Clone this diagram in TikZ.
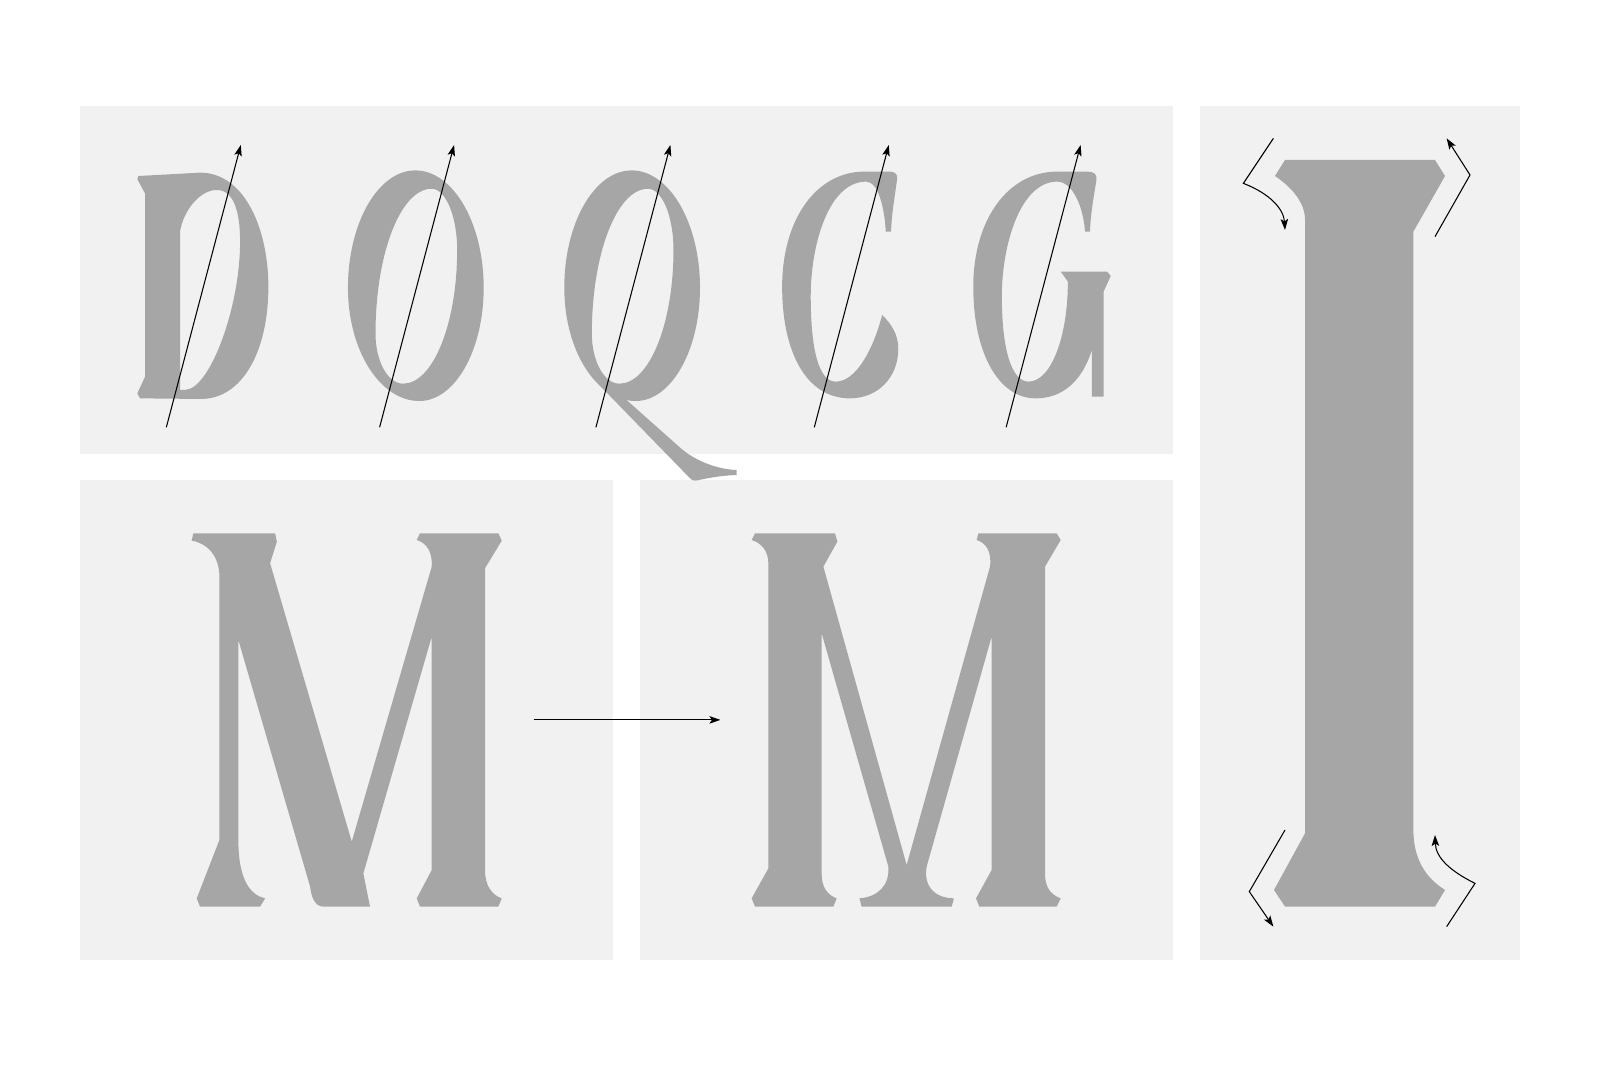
\documentclass[tikz,border=0pt]{standalone}
\usetikzlibrary{arrows.meta}
\definecolor{panelgray}{HTML}{F1F1F1}
\definecolor{glyphgray}{HTML}{A6A6A6}

\begin{document}
\begin{tikzpicture}[x=0.010204cm, y=-0.010204cm]
        \tikzstyle{panel}=[fill=panelgray]
        \tikzstyle{glyph}=[fill=glyphgray]
        \tikzstyle{guide}=[black, line width=0.3pt, -{Stealth[length=1.1mm,width=0.75mm,inset=0.25mm]}]
        \fill [white] (0,0) rectangle (1568,1045.7);
        \useasboundingbox (0,0) rectangle (1568,1045.7);
        % panels
        \fill [panel] (78,104) rectangle (1150,444.5);
        \fill [panel] (78,470.4) rectangle (601,941);
        \fill [panel] (627.2,470.4) rectangle (1150,941);
        \fill [panel] (1176,104) rectangle (1490,941);
        % D
        \fill [glyph, even odd rule] (135.6,172.5) -- (196,169.2) .. controls (240,169.2) and (263,225) .. (263,281) .. controls (263,345) and (237,391) .. (197,391) -- (137.2,390.4) -- (134.6,385.5) -- (142.1,369.2) -- (142.1,189.5) -- (134.6,175.7) -- cycle
              (176.4,227) .. controls (180,205) and (197,186) .. (212.3,186.2) .. controls (230,186) and (236,210) .. (235.2,241.7) .. controls (234,305) and (205,381) .. (182,382) -- (176.4,382) -- cycle;
        % O and the bowl of Q
        \foreach \s in {0,212}
        \fill [glyph, even odd rule, shift={(\s,0)}] (407,167) .. controls (444,167) and (474,218.5) .. (474,282) .. controls (474,343.3) and (445.8,393) .. (411,393) .. controls (372.4,393) and (341,343.3) .. (341,282) .. controls (341,218.5) and (370.6,167) .. (407,167) -- cycle
              (423,185) .. controls (436.8,185) and (448,211.9) .. (448,245) .. controls (448,317.3) and (424.3,376) .. (395,376) .. controls (380.1,376) and (368,354) .. (368,327) .. controls (368,248.6) and (392.6,185) .. (423,185) -- cycle;
        % tail of Q
        \fill [glyph] (587,377) -- (598,377) -- (614,392) -- (668,440) .. controls (681,451) and (702,460) .. (722,460.6) -- (722,465.5) .. controls (705,466) and (692,469) .. (682,471) .. controls (680,471) and (678,470.5) .. (677,469.5) -- cycle;
        % C
        \fill [glyph] (847,168.2) -- (872,168.2) .. controls (877,168.2) and (880,171) .. (879.2,175.5) .. controls (876.5,195) and (873.5,212) .. (873.3,227) -- (868,227) .. controls (867,205) and (861,178) .. (848.8,178) .. controls (812,178) and (794.5,240) .. (794.5,290) .. controls (794.5,345) and (803,374) .. (819,374) .. controls (838,374) and (855,345) .. (864.5,308.7) .. controls (874,318) and (880.3,328) .. (880.3,342) .. controls (880.3,370) and (860,390.4) .. (833,390.4) .. controls (790,390.4) and (766.5,345) .. (766.5,281) .. controls (766.5,215) and (800,168.2) .. (847,168.2) -- cycle;
        % G
        \fill [glyph] (1036,168.2) -- (1066,168.2) .. controls (1072,168.2) and (1075.5,171) .. (1074.5,176.4) .. controls (1071.5,195) and (1068.5,212) .. (1068.2,227) -- (1063.3,227) .. controls (1062,205) and (1052,178) .. (1036,178) .. controls (1000,178) and (981.8,240) .. (981.8,290) .. controls (981.8,345) and (992,374) .. (1008,374) .. controls (1030,374) and (1046.5,330) .. (1046.5,276) -- (1039.5,266.2) -- (1085,266.2) -- (1088.5,270.5) -- (1081.5,285.8) -- (1081.5,388.7) -- (1070,388.7) -- (1070,343) .. controls (1060,375) and (1040,390.4) .. (1015,390.4) .. controls (978,390.4) and (953.8,345) .. (953.8,281) .. controls (953.8,215) and (988,168.2) .. (1036,168.2) -- cycle;
        % stress axes
        \foreach \x in {163,372,584,798,986}
        \draw [guide] (\x,418.8) -- ++(73,-276.7);
        % M before
        \fill [glyph] (189.5,522.7) -- (269.6,522.7) -- (271.3,530.8) -- (264.7,552) -- (344.7,824.8) -- (423.1,555.3) .. controls (424,541) and (418,532) .. (408.4,529.2) -- (411.6,522.7) -- (488.4,522.7) -- (491.7,529.9) -- (475.3,556.9) -- (475.3,852.6) .. controls (475.3,868) and (482,877) .. (491.7,880.4) -- (488.4,888.5) -- (411.6,888.5) -- (408.4,880.4) -- (423.1,852.6) -- (423.1,623.9) -- (356.1,855.9) -- (362.6,888.5) -- (317,888.5) .. controls (308,888.5) and (305,878) .. (303.9,868.9) -- (233.6,627.2) -- (233.6,823.2) .. controls (233.6,862) and (245,877) .. (259.8,880.4) -- (254.9,888.5) -- (196,888.5) -- (192.8,880.4) -- (215,823.2) -- (215,565.1) .. controls (215,545) and (203,532) .. (187.8,529.9) -- cycle;
        % M after
        \fill [glyph] (739.9,522.7) -- (818.3,522.7) -- (820.6,530.8) -- (806.9,555.3) -- (888.5,847.7) -- (970.2,555.3) .. controls (972,540) and (966,532) .. (957.1,529.2) -- (958.8,522.7) -- (1035.5,522.7) -- (1039.5,529.2) -- (1024.1,555.3) -- (1024.1,855.9) .. controls (1024.1,870) and (1030,877) .. (1039.5,880.4) -- (1035.5,888.5) -- (959.7,888.5) -- (956.5,880.4) -- (971.8,852.6) -- (971.8,623.9) -- (908.1,849.3) .. controls (905,868) and (915,880) .. (934.9,880.4) -- (932.6,888.5) -- (844.4,888.5) -- (842.2,880.4) .. controls (860,879) and (872,868) .. (870.6,849.3) -- (805.2,620.7) -- (805.2,855.9) .. controls (805.2,870) and (811,877) .. (819.9,880.4) -- (816.7,888.5) -- (739.9,888.5) -- (736.6,880.4) -- (753,851) -- (753,552.1) .. controls (753,540) and (746,532) .. (736.6,529.2) -- cycle;
        \coordinate (mfrom) at (523,705.5);
        \coordinate (mto) at (706,705.5);
        \draw [guide] (mfrom) -- (mto);
        % I
        \fill [glyph] (1259.3,156.8) -- (1406.3,156.8) -- (1416.1,172.5) -- (1385.1,227) -- (1385.1,813.4) .. controls (1385.1,845) and (1400,862) .. (1416.1,872.2) -- (1406.3,888.5) -- (1259.3,888.5) -- (1248.5,872.2) -- (1278.9,816.7) -- (1278.9,215.6) .. controls (1279,200) and (1268,185) .. (1249.5,172.5) -- cycle;
        \draw [guide] (1247.9,135.6) -- (1218.5,179.7) .. controls (1245,190) and (1258,205) .. (1259.3,225.4);
        \draw [guide] (1406.3,231.9) -- (1440.6,171.5) -- (1417.7,135.6);
        \draw [guide] (1259.3,813.4) -- (1224.3,873.8) -- (1247.9,908.1);
        \draw [guide] (1417.7,908.1) -- (1445.5,865.7) .. controls (1420,853) and (1407,840) .. (1406.3,818.3);
\end{tikzpicture}
\end{document}
